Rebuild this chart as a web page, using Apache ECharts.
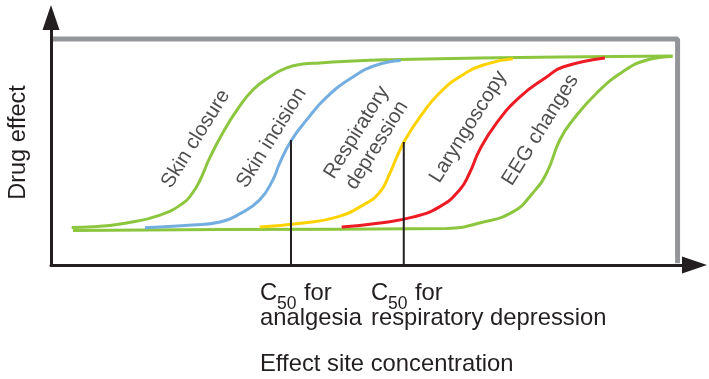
<!DOCTYPE html>
<html>
<head>
<meta charset="utf-8">
<script src="https://cdn.jsdelivr.net/npm/echarts/dist/echarts.min.js"></script>
<style>
  html, body { margin: 0; padding: 0; background: #fff; }
  #main { width: 709px; height: 379px; }
</style>
</head>
<body>
<div id="main"></div>
<script>
// concentration (x) vs drug effect (y)
var skinClosure = [[3.3,16.6],[6.7,16.9],[12.1,18.6],[17.4,22.1],[21.1,27.4],[22.6,31.9],[23.8,37.6],[25.4,47.8],[27.4,58.4],[29.7,68.6],[32.2,77.4],[34.9,83.2],[37.6,87.2],[40.2,88.9],[42.9,89.4],[48.2,90.3],[55.7,90.9],[68.4,91.6],[81.2,92.0],[99.2,92.5]];
var skinIncision = [[15.0,16.5],[22.6,17.7],[27.0,19.0],[30.1,22.6],[33.3,28.8],[35.4,37.6],[36.5,45.1],[38.4,55.3],[40.8,64.2],[44.0,74.3],[48.2,83.2],[52.0,88.5],[55.8,90.5]];
var respDepression = [[33.3,16.8],[40.2,18.6],[45.6,21.2],[49.8,26.5],[52.5,32.3],[54.1,40.7],[55.2,47.8],[56.5,55.3],[58.9,65.5],[62.0,76.1],[65.7,84.1],[69.5,88.9],[73.7,91.2]];
var laryngoscopy = [[46.4,16.8],[52.5,18.6],[57.7,21.2],[62.0,25.7],[65.2,33.2],[66.8,40.7],[68.4,50.9],[71.1,62.8],[74.8,74.3],[79.1,83.2],[81.7,87.6],[88.4,91.6]];
var eegChanges = [[3.5,15.3],[27.0,15.7],[63.2,16.2],[68.4,18.6],[73.7,23.5],[76.9,31.9],[79.1,40.7],[81.2,55.3],[83.3,64.2],[87.1,76.1],[91.2,85.4],[95.1,90.7],[99.2,92.3]];
var maxEffectBox = [[0.3,100],[100,100],[100,0.8]];
var c50Analgesia = [[38.3,0],[38.3,55.3]];
var c50Resp = [[56.3,0],[56.3,54.4]];
var curveLabels = [
  { value: [23.1,55.8], text: 'Skin closure' },
  { value: [35.2,56.3], text: 'Skin incision' },
  { value: [50.4,55.8], text: 'Respiratory\ndepression' },
  { value: [66.6,61.1], text: 'Laryngoscopy' },
  { value: [78.1,59.7], text: 'EEG changes' }
];

var FONT = "'Liberation Sans', Arial, Helvetica, sans-serif";
var INK = '#231f20';
var GREEN = '#8cc63f';

function curve(data, color) {
  return {
    type: 'line',
    data: data,
    smooth: 0.5,
    showSymbol: false,
    symbol: 'none',
    lineStyle: { color: color, width: 3 },
    silent: true
  };
}

function txt(x, y, s, size, opts) {
  opts = opts || {};
  return {
    type: 'text',
    x: x, y: y,
    rotation: opts.rotation || 0,
    style: {
      text: s,
      fill: INK,
      fontSize: size,
      fontFamily: FONT,
      align: opts.align || 'left',
      textAlign: opts.align || 'left',
      verticalAlign: 'middle',
      textVerticalAlign: 'middle'
    }
  };
}

var chart = echarts.init(document.getElementById('main'));

var axisLine = {
  show: true,
  symbol: ['none', 'triangle'],
  symbolSize: [17, 25],
  lineStyle: { color: INK, width: 3 }
};

var option = {
  animation: false,
  grid: { left: 51, top: 17.5, right: 14.5, bottom: 114 },
  xAxis: {
    type: 'value', min: 0, max: 102.7, z: 5,
    axisLine: axisLine,
    axisTick: { show: false }, axisLabel: { show: false }, splitLine: { show: false }
  },
  yAxis: {
    type: 'value', min: 0, max: 109.5, z: 5,
    axisLine: axisLine,
    axisTick: { show: false }, axisLabel: { show: false }, splitLine: { show: false }
  },
  series: [
    {
      type: 'line', data: maxEffectBox, symbol: 'none', silent: true,
      lineStyle: { color: '#939598', width: 5 }
    },
    curve(eegChanges, GREEN),
    curve(skinClosure, GREEN),
    curve(skinIncision, '#74aee0'),
    curve(respDepression, '#ffd200'),
    curve(laryngoscopy, '#ed1c24'),
    { type: 'line', data: c50Analgesia, symbol: 'none', silent: true, lineStyle: { color: INK, width: 2 } },
    { type: 'line', data: c50Resp, symbol: 'none', silent: true, lineStyle: { color: INK, width: 2 } },
    {
      type: 'scatter',
      symbolSize: 1,
      itemStyle: { color: 'rgba(0,0,0,0)' },
      silent: true,
      z: 10,
      data: curveLabels.map(function (d) {
        return {
          value: d.value,
          label: { formatter: d.text }
        };
      }),
      label: {
        show: true,
        position: 'inside',
        rotate: 58,
        color: INK,
        fontSize: 20.5,
        lineHeight: 24,
        fontFamily: FONT,
        align: 'center',
        verticalAlign: 'middle'
      },
      labelLayout: { hideOverlap: false }
    }
  ],
  graphic: [
    txt(19, 142.5, 'Drug effect', 23.5, { rotation: Math.PI / 2, align: 'center' }),
    txt(260, 293.9, 'C', 23.8),
    txt(277, 303.9, '50', 17.5),
    txt(304, 293.9, 'for', 23.8),
    txt(260, 318.4, 'analgesia', 23.8),
    txt(371, 293.9, 'C', 23.8),
    txt(388, 303.9, '50', 17.5),
    txt(415, 293.9, 'for', 23.8),
    txt(371, 318.4, 'respiratory depression', 23.8),
    txt(260, 364.9, 'Effect site concentration', 23.8)
  ]
};

chart.setOption(option);
</script>
</body>
</html>
